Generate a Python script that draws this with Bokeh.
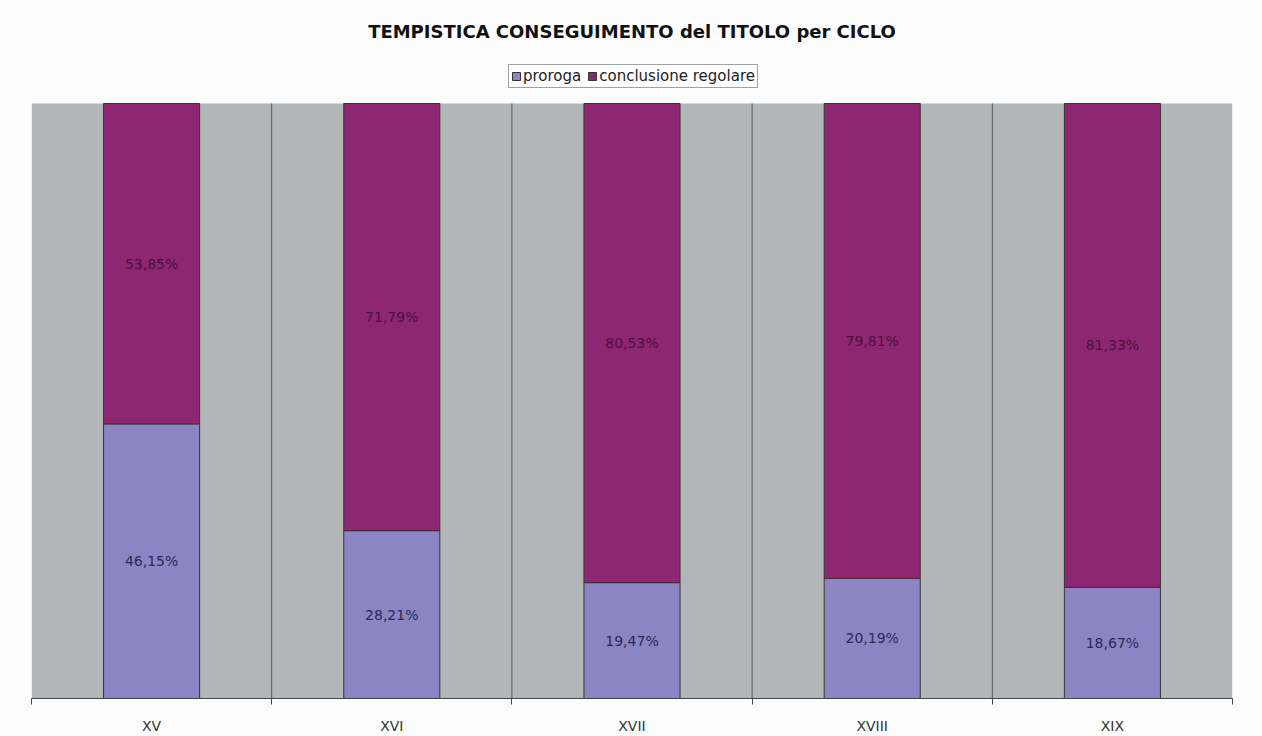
from bokeh.plotting import figure
from bokeh.models import ColumnDataSource, FixedTicker, Legend, LegendItem, Range1d
from bokeh.core.properties import value
from bokeh.embed import file_html
from bokeh.resources import INLINE

categories = ["XV", "XVI", "XVII", "XVIII", "XIX"]
proroga = [46.15, 28.21, 19.47, 20.19, 18.67]
conclusione = [53.85, 71.79, 80.53, 79.81, 81.33]
series_names = ["proroga", "conclusione regolare"]
colors = ["#8c85c3", "#8e2771"]
plot_bg = "#b3b6b8"
FONT = "DejaVu Sans"

n = len(categories)
xs = [i + 0.5 for i in range(n)]
bounds = list(range(1, n))
fmt = lambda v: f"{v:.2f}%".replace(".", ",")

src = ColumnDataSource(dict(
    x=xs, cat=categories, proroga=proroga, conclusione=conclusione,
    p_mid=[v / 2 for v in proroga],
    c_mid=[p + c / 2 for p, c in zip(proroga, conclusione)],
    p_lab=[fmt(v) for v in proroga],
    c_lab=[fmt(v) for v in conclusione],
))

W, H = 1262, 736
L, R, B = 31, 30, 38
frame_top = 50          # frame extends above the grey area so the legend can sit in it
grey_top = 103
bottom_px = H - B
y_end = 100 * (bottom_px - frame_top) / (bottom_px - grey_top)

p = figure(width=W, height=H, output_backend="svg", toolbar_location=None,
           x_range=Range1d(0, n), y_range=Range1d(0, y_end),
           min_border_left=L, min_border_right=R, min_border_top=frame_top, min_border_bottom=B,
           title="TEMPISTICA CONSEGUIMENTO del TITOLO per CICLO")
p.background_fill_color = "#fdfdfd"
p.border_fill_color = "#fdfdfd"
p.outline_line_color = None

p.title.align = "center"
p.title.text_font = FONT
p.title.text_font_size = "18px"
p.title.text_font_style = "bold"
p.title.text_color = "#111111"
p.title.standoff = 17

# grey plot area and category separators
p.quad(left=0, right=n, bottom=0, top=100, fill_color=plot_bg, line_color=None)
p.segment(x0=bounds, y0=[0] * len(bounds), x1=bounds, y1=[100] * len(bounds),
          line_color="#5a5a5a", line_width=1)

rs = p.vbar_stack(["proroga", "conclusione"], x="x", width=0.4, source=src,
                  fill_color=colors, line_color="#333333", line_width=1)

p.text(x="x", y="p_mid", text="p_lab", source=src, text_align="center", text_baseline="middle",
       text_font=value(FONT), text_font_size="14px", text_color="#2b2858")
p.text(x="x", y="c_mid", text="c_lab", source=src, text_align="center", text_baseline="middle",
       text_font=value(FONT), text_font_size="14px", text_color="#4a0f3e")

p.yaxis.visible = False
p.ygrid.grid_line_color = None
p.xgrid.grid_line_color = None

ax = p.xaxis[0]
ax.ticker = FixedTicker(ticks=xs, minor_ticks=list(range(0, n + 1)))
ax.major_label_overrides = {x: c for x, c in zip(xs, categories)}
ax.major_tick_line_color = None
ax.major_tick_out = 0
ax.major_tick_in = 0
ax.minor_tick_line_color = "#444444"
ax.minor_tick_out = 6
ax.minor_tick_in = 0
ax.axis_line_color = "#444444"
ax.major_label_text_font = FONT
ax.major_label_text_font_size = "14px"
ax.major_label_text_color = "#333333"
ax.major_label_standoff = 13

legend = Legend(items=[LegendItem(label=series_names[i], renderers=[rs[i]]) for i in range(2)],
                orientation="horizontal", location=(508 - L, bottom_px - 88),
                label_text_font=FONT, label_text_font_size="15px",
                label_text_color="#222222", label_height=14, label_standoff=2,
                glyph_width=10, glyph_height=10, spacing=6, padding=2, margin=0,
                border_line_color="#444444", background_fill_color="white", background_fill_alpha=1)
p.add_layout(legend, "center")

open("out.html", "w").write(file_html(p, INLINE))
